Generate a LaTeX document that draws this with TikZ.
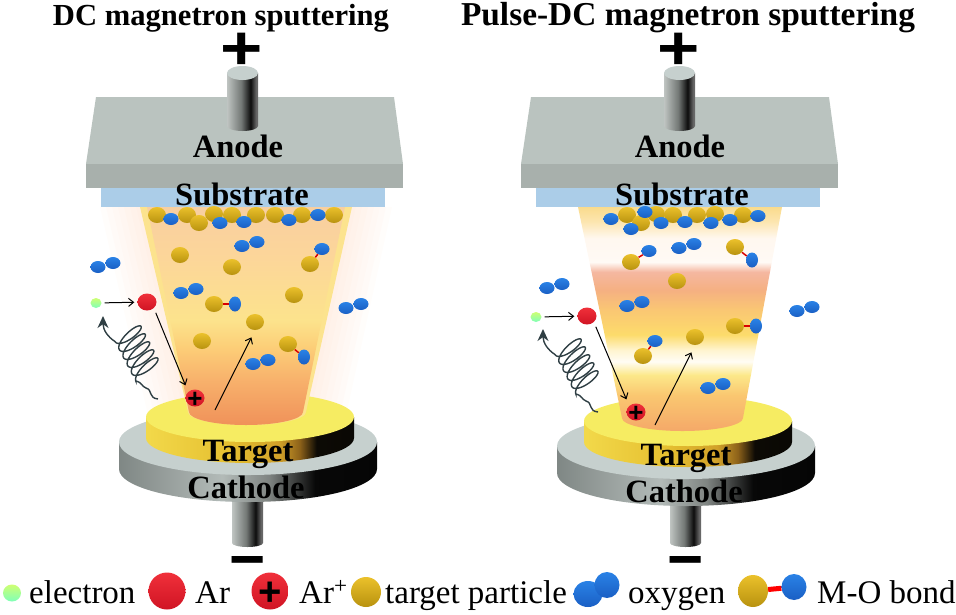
\documentclass[tikz,border=0pt]{standalone}
\usepackage{fontspec}
\setmainfont{Liberation Serif}
\newfontfamily\signfont{Liberation Sans}
\usetikzlibrary{shapes.geometric,arrows.meta}

\definecolor{anodetop}{HTML}{BAC3BF}
\definecolor{anodefront}{HTML}{A8B0AC}
\definecolor{substrate}{HTML}{ABCDE8}
\definecolor{targettop}{HTML}{F6EC62}
\definecolor{cathodetop}{HTML}{C6D0CE}
\definecolor{goldhi}{HTML}{EBC12B}
\definecolor{goldlo}{HTML}{B8920F}
\definecolor{oxyhi}{HTML}{2A82E6}
\definecolor{oxylo}{HTML}{1A5FC4}
\definecolor{arhi}{HTML}{F0303A}
\definecolor{arlo}{HTML}{D01424}
\definecolor{coil}{HTML}{2F3F44}
\definecolor{beamedge}{HTML}{FCE38E}

\pgfdeclarehorizontalshading{targetside}{100bp}{rgb(0bp)=(0.95,0.85,0.29);rgb(25bp)=(0.95,0.85,0.29);rgb(45bp)=(0.90,0.75,0.19);rgb(57bp)=(0.82,0.63,0.16);rgb(62bp)=(0.55,0.38,0.10);rgb(66bp)=(0.05,0.04,0.02);rgb(100bp)=(0,0,0)}
\pgfdeclarehorizontalshading{cathodeside}{100bp}{rgb(0bp)=(0.50,0.53,0.52);rgb(25bp)=(0.50,0.53,0.52);rgb(45bp)=(0.70,0.73,0.72);rgb(54bp)=(0.50,0.52,0.51);rgb(63bp)=(0.03,0.03,0.03);rgb(100bp)=(0,0,0)}
\pgfdeclarehorizontalshading{rodside}{100bp}{rgb(0bp)=(0.75,0.77,0.76);rgb(25bp)=(0.75,0.77,0.76);rgb(48bp)=(0.45,0.47,0.46);rgb(63bp)=(0.05,0.05,0.05);rgb(72bp)=(0.40,0.40,0.40);rgb(100bp)=(0.50,0.50,0.50)}
\pgfdeclareverticalshading{dcbeam}{100bp}{rgb(0bp)=(0.94,0.57,0.35);rgb(25bp)=(0.94,0.57,0.35);rgb(35bp)=(0.97,0.69,0.42);rgb(43bp)=(0.99,0.81,0.47);rgb(49bp)=(0.99,0.89,0.55);rgb(63bp)=(0.99,0.84,0.60);rgb(75bp)=(0.97,0.81,0.63);rgb(100bp)=(0.97,0.81,0.63)}
\pgfdeclareverticalshading{pulsebeam}{100bp}{rgb(0bp)=(0.96,0.66,0.41);rgb(25bp)=(0.96,0.66,0.41);rgb(33bp)=(0.98,0.78,0.44);rgb(37.5bp)=(0.99,0.91,0.54);rgb(40.5bp)=(1,0.99,0.96);rgb(43bp)=(1,0.96,0.82);rgb(46.5bp)=(0.99,0.86,0.42);rgb(52bp)=(0.98,0.78,0.45);rgb(56.5bp)=(0.96,0.69,0.51);rgb(60.5bp)=(0.96,0.72,0.63);rgb(62.7bp)=(1,0.98,0.96);rgb(68bp)=(1,0.97,0.94);rgb(71.7bp)=(0.99,0.90,0.69);rgb(75bp)=(0.98,0.86,0.55);rgb(100bp)=(0.98,0.86,0.55)}

\tikzset{
  goldball/.style={ellipse,inner sep=0pt,minimum width=18pt,minimum height=16pt,top color=goldhi,bottom color=goldlo},
  oxyball/.style={ellipse,inner sep=0pt,minimum width=15pt,minimum height=12pt,top color=oxyhi,bottom color=oxylo},
  arball/.style={ellipse,inner sep=0pt,minimum width=19pt,minimum height=17pt,top color=arhi,bottom color=arlo},
  elecball/.style={ellipse,inner sep=0pt,minimum width=11pt,minimum height=10pt,top color=green!35!yellow!55!white,bottom color=cyan!45!green!50!white},
  hitline/.style={->,line width=1pt,shorten >=3pt,shorten <=3pt},
  bond/.style={red!85!black,line width=1.5pt},
  titletext/.style={inner sep=0pt,anchor=base,font=\bfseries\fontsize{#1}{34}\selectfont},
  parttext/.style={inner sep=0pt,anchor=base,font=\bfseries\fontsize{32.5}{34}\selectfont},
  legendtext/.style={inner sep=0pt,anchor=base west,font=\fontsize{33}{34}\selectfont},
  signtext/.style={inner sep=0pt,font=\signfont\bfseries\fontsize{#1}{#1}\selectfont}
}

% anode, substrate, target and cathode of one chamber
\newcommand\chamber[5]{
  \begin{scope}[shift={(#3,0)}]
    \shade[shading=rodside] (232,500) -- (232,543) arc[start angle=180,end angle=360,x radius=15.5pt,y radius=4pt] -- (263,500) -- cycle;
    \node[signtext=62] (minus#1) at (247.5,568) {−};
  \end{scope}
  \begin{scope}[shift={(#3,#4)}]
    \shade[shading=cathodeside] (119,442) -- (119,469) arc[start angle=180,end angle=360,x radius=129pt,y radius=33pt] -- (377,442) -- cycle;
    \fill[cathodetop] (248,442) ellipse[x radius=129pt,y radius=33pt];
    \shade[shading=targetside] (146,417) -- (146,438) arc[start angle=180,end angle=360,x radius=104pt,y radius=25pt] -- (354,417) -- cycle;
    \fill[targettop] (250,417) ellipse[x radius=104pt,y radius=25pt];
  \end{scope}
  \begin{scope}[shift={(#2,0)}]
    \fill[anodetop] (96,97) -- (394,97) -- (403,164) -- (86,164) -- cycle;
    \fill[anodefront] (86,164) -- (403,164) -- (403,188) -- (86,188) -- cycle;
    \fill[substrate] (101,188) -- (385,188) -- (385,207) -- (101,207) -- cycle;
  \end{scope}
  \begin{scope}[shift={(#5,0)}]
    \shade[shading=rodside] (227,73) -- (227,126) arc[start angle=180,end angle=360,x radius=15.5pt,y radius=5pt] -- (258,73) -- cycle;
    \fill[cathodetop] (242.5,73) ellipse[x radius=15.5pt,y radius=7pt];
    \node[signtext=62,xscale=1.17,transform shape] (plus#1) at (242,51) {+};
  \end{scope}
}

% wavy line that runs into a coil and ends at the electron
\newcommand\photon[2]{
  \begin{scope}[shift={(#1,#2)}]
    \draw[coil,line width=1.4pt,-{Stealth[length=12pt,width=11pt]}] (158,399) .. controls (148,398) and (153,390) .. (146,388) .. controls (141,386) and (143,383) .. (136,381)
      -- plot[variable=\t,domain=0:1800,samples=300] ({148-\t/1800*21-12*cos(\t)-2.6*sin(\t)},{372-\t/1800*40+9.5*cos(\t)-5*sin(\t)})
      .. controls (108,337) and (103,330) .. (103,316);
  \end{scope}
}

\begin{document}
\begin{tikzpicture}[x=1pt,y=-1pt,>={Straight Barb[length=5pt,width=8pt]}]
  \useasboundingbox (0,0) rectangle (956,614);

  % soft glow round the left beam
  \foreach \w in {40,34,...,4}
    \fill[red!25!orange!30!white,opacity=0.05] (140-\w,207) -- (352+\w,207) -- (306+\w,415) -- (188-\w,415) -- cycle;

  \chamber{L}{0}{0}{0}{0}
  \chamber{R}{435}{438}{4}{437}

  \node[titletext=30.6] (titleL) at (221,25) {DC magnetron sputtering};
  \node[titletext=33.4] (titleR) at (688,25) {Pulse-DC magnetron sputtering};
  \node[parttext] (anodeL) at (238,157) {Anode};
  \node[parttext] (anodeR) at (680,157) {Anode};
  \node[parttext] (substrateL) at (242,205) {Substrate};
  \node[parttext] (substrateR) at (682,205) {Substrate};
  \node[parttext] (targetL) at (248,461) {Target};
  \node[parttext] (targetR) at (686,465) {Target};
  \node[parttext] (cathodeL) at (246,498) {Cathode};
  \node[parttext] (cathodeR) at (684,502) {Cathode};

  % beams
  \fill[beamedge] (140,207) -- (352,207) -- (306,412) arc[start angle=0,end angle=-180,x radius=59pt,y radius=13pt] -- cycle;
  \shade[shading=dcbeam] (147,207) -- (345,207) -- (303,412) arc[start angle=0,end angle=-180,x radius=57pt,y radius=13pt] -- cycle;
  \shade[shading=pulsebeam] (578,207) -- (782,207) -- (743,418) arc[start angle=0,end angle=-180,x radius=60.5pt,y radius=13pt] -- cycle;

  \photon{0}{0}
  \photon{440}{13}

  % particles on the substrate and in flight
  \foreach \gx/\gy [count=\n] in {157/215,187/215,199/223,214/214,232/215,256/215,275/215,302/215,334/215,180/255,232/267,294/295,202/341,
      627/215,641/223,656/214,673/215,697/215,715/214,743/215,677/281}
    \node[goldball] (gold\n) at (\gx,\gy) {};
  \foreach \ox/\oy [count=\n] in {171/219,220/223,244/222,289/220,318/215,
      611/219,631/229,645/212,661/223,685/222,711/223,730/220,758/216}
    \node[oxyball] (oxy\n) at (\ox,\oy) {};
  \foreach \ox/\oy [count=\n] in {242/246,98/267,181/293,346/308,253/364,
      679/248,547/288,627/306,797/311,708/388}{
    \node[oxyball] (oxyA\n) at (\ox,\oy) {};
    \node[oxyball] (oxyB\n) at (\ox+15,\oy-4) {};
  }
  \foreach \gx/\gy/\bx/\by/\r [count=\n] in {310/264/322/249/0,214/304/235/304/90,288/344/304/357/90,
      631/262/649/251/0,735/247/752/260/90,735/326/756/326/90,643/356/655/341/0}{
    \node[goldball] (mogold\n) at (\gx,\gy) {};
    \node[oxyball,rotate=\r] (mooxy\n) at (\bx,\by) {};
    \draw[bond] (mogold\n) -- (mooxy\n);
  }

  % left chamber: electron, Ar, Ar+
  \node[elecball] (elecL) at (96,303) {};
  \node[arball] (arL) at (147,302) {};
  \node[arball] (ionL) at (195,398) {};
  \node[signtext=26] (ionsignL) at (195,400) {+};
  \node[goldball] (hitgoldL) at (255,322) {};
  \coordinate (startL) at (215,410);
  \draw[hitline] (elecL) -- (arL);
  \draw[hitline,shorten <=5pt,shorten >=7pt] (arL.south east) -- (ionL.north west);
  \draw[hitline,shorten >=8pt,shorten <=0pt] (startL) -- (hitgoldL.south);

  % right chamber: electron, Ar, Ar+
  \node[elecball] (elecR) at (536,317) {};
  \node[arball] (arR) at (587,316) {};
  \node[arball] (ionR) at (636,412) {};
  \node[signtext=26] (ionsignR) at (636,414) {+};
  \node[goldball] (hitgoldR) at (695,337) {};
  \coordinate (startR) at (655,425);
  \draw[hitline] (elecR) -- (arR);
  \draw[hitline,shorten <=5pt,shorten >=7pt] (arR.south east) -- (ionR.north west);
  \draw[hitline,shorten >=8pt,shorten <=0pt] (startR) -- (hitgoldR.south);

  % legend
  \node[elecball,minimum width=18pt,minimum height=17pt] (legelec) at (12,593) {};
  \node[legendtext] (legelectext) at (29,603) {electron};
  \node[arball,minimum width=37pt,minimum height=37pt] (legar) at (167,591) {};
  \node[legendtext] (legartext) at (195,603) {Ar};
  \node[arball,minimum width=37pt,minimum height=37pt] (legion) at (270,591) {};
  \node[signtext=40] (legionsign) at (270,594) {+};
  \node[legendtext] (legiontext) at (299,603) {Ar\textsuperscript{+}};
  \node[goldball,minimum width=30pt,minimum height=30pt] (leggold) at (366,592) {};
  \node[legendtext] (leggoldtext) at (385,603) {target particle};
  \node[oxyball,minimum width=29pt,minimum height=26pt] (legoxyA) at (588,594) {};
  \node[oxyball,minimum width=25pt,minimum height=26pt] (legoxyB) at (607,585) {};
  \node[legendtext] (legoxytext) at (628,603) {oxygen};
  \node[goldball,minimum width=30pt,minimum height=32pt] (legmogold) at (753,591) {};
  \node[oxyball,minimum width=25pt,minimum height=26pt] (legmooxy) at (794,587) {};
  \draw[red,line width=5pt] (legmogold) -- (legmooxy);
  \node[legendtext] (legmotext) at (817,603) {M-O bond};
\end{tikzpicture}
\end{document}
